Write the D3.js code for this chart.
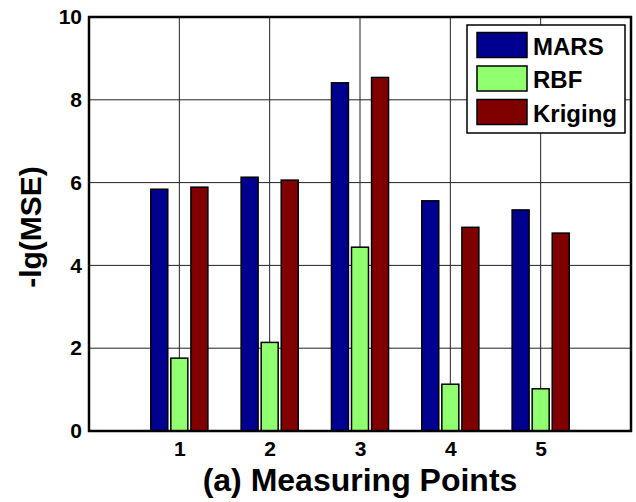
<!DOCTYPE html>
<html>
<head>
<meta charset="utf-8">
<script src="https://cdn.jsdelivr.net/npm/d3@7"></script>
<style>
	html, body {margin: 0; padding: 0; background: #fff;}
	svg text {font-family: "Liberation Sans", Arial, sans-serif; font-weight: bold; fill: #000;}
</style>
</head>
<body>
<svg id="chart" width="636" height="502"></svg>
<script>
const categories = [1, 2, 3, 4, 5];
const seriesNames = ['MARS', 'RBF', 'Kriging'];
const mars = [5.84, 6.13, 8.41, 5.56, 5.34];
const rbf = [1.76, 2.14, 4.44, 1.13, 1.02];
const kriging = [5.89, 6.06, 8.54, 4.92, 4.78];
const yTicks = [0, 2, 4, 6, 8, 10];
const colors = ['#000090', '#90ff70', '#800000'];

const series = [mars, rbf, kriging];

const svg = d3.select('#chart');
const margin = {left: 89, right: 5, top: 17, bottom: 71};
const width = 636 - margin.left - margin.right;
const height = 502 - margin.top - margin.bottom;

const x = d3.scaleLinear().domain([0, 6]).range([0, width]);
const y = d3.scaleLinear().domain([0, 10]).range([height, 0]);

const g = svg.append('g').attr('transform', `translate(${margin.left},${margin.top})`);

// grid lines
g.append('g')
	.selectAll('line')
	.data(yTicks)
	.join('line')
	.attr('x1', 0).attr('x2', width)
	.attr('y1', d => y(d)).attr('y2', d => y(d))
	.attr('stroke', '#222').attr('stroke-width', 1);

g.append('g')
	.selectAll('line')
	.data(categories)
	.join('line')
	.attr('x1', d => x(d)).attr('x2', d => x(d))
	.attr('y1', 0).attr('y2', height)
	.attr('stroke', '#222').attr('stroke-width', 1);

/**
 * Bars: one group per series, offset around each category.
 */
const step = 0.222;
const barWidth = x(0.188) - x(0);

series.forEach((values, i) => {
	const offset = (i - 1) * step;
	g.append('g')
		.selectAll('rect')
		.data(values)
		.join('rect')
		.attr('x', (d, j) => x(categories[j] + offset) - barWidth / 2)
		.attr('y', d => y(d))
		.attr('width', barWidth)
		.attr('height', d => y(0) - y(d))
		.attr('fill', colors[i])
		.attr('stroke', '#000')
		.attr('stroke-width', 1.5);
});

// axes
const xAxis = g.append('g')
	.attr('transform', `translate(0,${height})`)
	.call(d3.axisBottom(x).tickValues(categories).tickFormat(d3.format('d')).tickSize(0).tickPadding(10));
const yAxis = g.append('g')
	.call(d3.axisLeft(y).tickValues(yTicks).tickSize(0).tickPadding(7));

[xAxis, yAxis].forEach(a => {
	a.select('.domain').remove();
	a.selectAll('text').style('font-size', '21px').style('font-family', '"Liberation Sans", Arial, sans-serif').style('font-weight', 'bold');
});

// box
g.append('rect')
	.attr('x', 0).attr('y', 0)
	.attr('width', width).attr('height', height)
	.attr('fill', 'none')
	.attr('stroke', '#000')
	.attr('stroke-width', 2.5);

// labels
svg.append('text')
	.attr('transform', 'translate(41,227) rotate(-90)')
	.attr('text-anchor', 'middle')
	.style('font-size', '30px')
	.text('-lg(MSE)');

svg.append('text')
	.attr('x', margin.left + width / 2)
	.attr('y', 491)
	.attr('text-anchor', 'middle')
	.style('font-size', '32px')
	.text('(a) Measuring Points');

// legend
const legend = svg.append('g').attr('transform', 'translate(467,25)');
legend.append('rect')
	.attr('width', 158).attr('height', 108)
	.attr('fill', '#fff')
	.attr('stroke', '#000')
	.attr('stroke-width', 1.5);

const item = legend.selectAll('g.item')
	.data(seriesNames)
	.join('g')
	.attr('class', 'item')
	.attr('transform', (d, i) => `translate(10,${7.5 + i * 33.5})`);

item.append('rect')
	.attr('width', 50).attr('height', 25)
	.attr('fill', (d, i) => colors[i])
	.attr('stroke', '#000')
	.attr('stroke-width', 1.5);

item.append('text')
	.attr('x', 56).attr('y', 22)
	.style('font-size', '24px')
	.text(d => d);
</script>
</body>
</html>
